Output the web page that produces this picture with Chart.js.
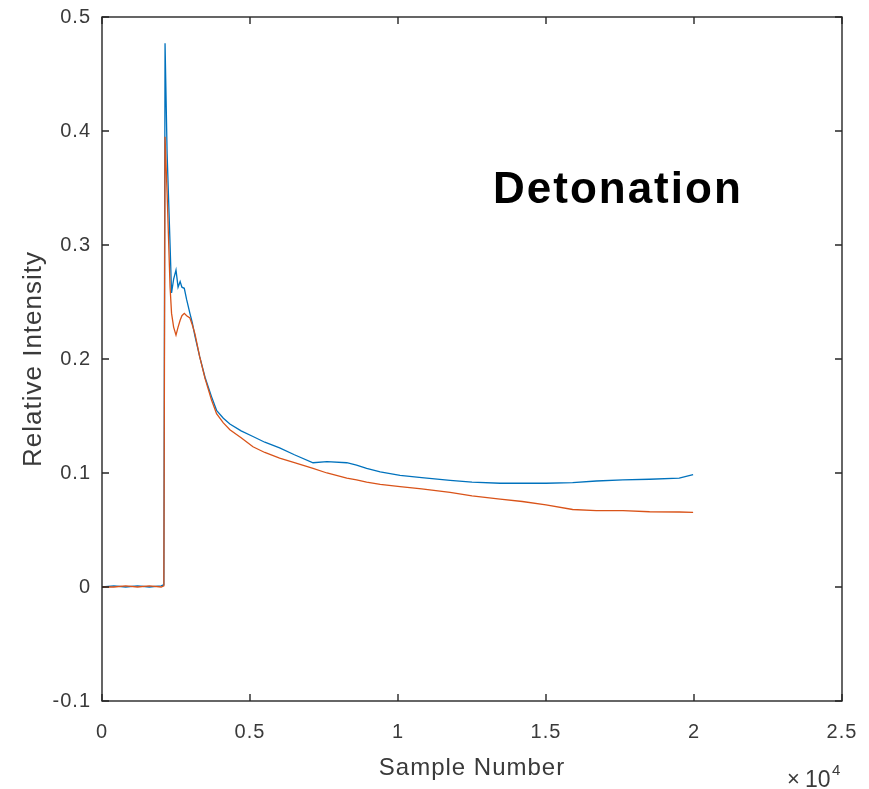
<!DOCTYPE html>
<html>
<head>
<meta charset="utf-8">
<script src="https://cdn.jsdelivr.net/npm/chart.js@4.4.0/dist/chart.umd.min.js"></script>
<style>
  body { margin: 0; background: #fff; }
  #wrap { width: 869px; height: 789px; }
</style>
</head>
<body>
<div id="wrap"><canvas id="myChart"></canvas></div>
<script>
// sample numbers (x) shared by both traces
const sampleX = [0, 400, 800, 1200, 1600, 2000, 2090, 2130, 2200, 2300, 2350, 2420, 2500, 2570, 2640, 2700,
  2780, 2860, 2970, 3050, 3140, 3300, 3480, 3700, 3870, 4100, 4320, 4700, 5100, 5500, 6000, 6500,
  7130, 7600, 8270, 8600, 8940, 9400, 10070, 10800, 11760, 12500, 13450, 14200, 15000, 15900,
  16700, 17600, 18500, 19500, 19970];

const blueY = [0, 0.001, 0, 0.001, 0, 0.001, 0.002, 0.477, 0.38, 0.30, 0.258, 0.27, 0.278, 0.263, 0.268, 0.263,
  0.262, 0.252, 0.24, 0.232, 0.22, 0.202, 0.184, 0.167, 0.155, 0.148, 0.143, 0.137, 0.132, 0.127, 0.122, 0.116,
  0.109, 0.110, 0.109, 0.107, 0.104, 0.101, 0.098, 0.096, 0.0935, 0.092, 0.091, 0.091, 0.091, 0.0915,
  0.093, 0.094, 0.0945, 0.0955, 0.0985];

const orangeY = [0, 0, 0.001, 0, 0.001, 0, 0.001, 0.395, 0.345, 0.263, 0.240, 0.228, 0.221, 0.228, 0.234, 0.238,
  0.240, 0.238, 0.236, 0.230, 0.222, 0.202, 0.183, 0.164, 0.152, 0.144, 0.138, 0.131, 0.123, 0.118, 0.113, 0.109,
  0.104, 0.100, 0.0955, 0.094, 0.092, 0.090, 0.088, 0.086, 0.083, 0.080, 0.077, 0.075, 0.072, 0.068,
  0.067, 0.067, 0.066, 0.0658, 0.0655];

const xTicks = ["0", "0.5", "1", "1.5", "2", "2.5"];

const axisColor = "#262626";
const textColor = "#3a3a3a";
const fontFam = "'Liberation Sans', Arial, sans-serif";

// matlab style box with inward ticks, plus the text inside the axes
const matlabBox = {
  id: "matlabBox",
  beforeDraw(chart) {
    // matlab text is a bit wider than arial
    chart.ctx.letterSpacing = "1px";
  },
  afterDatasetsDraw(chart) {
    const c = chart.ctx;
    const a = chart.chartArea;
    const xs = chart.scales.x;
    const ys = chart.scales.y;
    const len = 7;
    c.save();
    c.strokeStyle = axisColor;
    c.lineWidth = 1.4;
    c.strokeRect(a.left, a.top, a.right - a.left, a.bottom - a.top);
    c.beginPath();
    xs.ticks.forEach(t => {
      const px = xs.getPixelForValue(t.value);
      c.moveTo(px, a.bottom); c.lineTo(px, a.bottom - len);
      c.moveTo(px, a.top); c.lineTo(px, a.top + len);
    });
    ys.ticks.forEach(t => {
      const py = ys.getPixelForValue(t.value);
      c.moveTo(a.left, py); c.lineTo(a.left + len, py);
      c.moveTo(a.right, py); c.lineTo(a.right - len, py);
    });
    c.stroke();

    // "Detonation" label
    c.fillStyle = "#000";
    c.letterSpacing = "2px";
    c.font = "bold 44px " + fontFam;
    c.textBaseline = "alphabetic";
    c.textAlign = "left";
    c.fillText("Detonation", a.left + 391, a.top + 186);

    // x10^4 exponent
    c.letterSpacing = "0px";
    c.fillStyle = textColor;
    c.font = "22px " + fontFam;
    c.fillText("\u00d7", a.right - 55, a.bottom + 85);
    c.font = "23px " + fontFam;
    c.fillText("10", a.right - 37, a.bottom + 86);
    c.font = "15px " + fontFam;
    c.fillText("4", a.right - 10, a.bottom + 74);
    c.restore();
  }
};

// invisible tick marks push the labels away from the box without adding edge padding
const hiddenGrid = (len) => ({
  display: true,
  drawOnChartArea: false,
  drawTicks: true,
  tickLength: len,
  color: "rgba(0,0,0,0)",
});

const ctx = document.getElementById("myChart");
new Chart(ctx, {
  type: "line",
  data: {
    labels: sampleX,
    datasets: [
      {
        label: "blue",
        data: sampleX.map((x, i) => ({ x: x, y: blueY[i] })),
        borderColor: "#0072BD",
        borderWidth: 1.3,
        pointRadius: 0,
        order: 2,
      },
      {
        label: "orange",
        data: sampleX.map((x, i) => ({ x: x, y: orangeY[i] })),
        borderColor: "#D95319",
        borderWidth: 1.3,
        pointRadius: 0,
        order: 1,
      },
    ],
  },
  options: {
    responsive: true,
    maintainAspectRatio: false,
    animation: false,
    layout: { padding: { top: 17, right: 27, left: 0, bottom: 0 } },
    plugins: {
      legend: { display: false },
      tooltip: { enabled: false },
    },
    scales: {
      x: {
        type: "linear",
        min: 0,
        max: 25000,
        grid: hiddenGrid(19),
        border: { display: false },
        ticks: {
          stepSize: 5000,
          padding: 0,
          color: textColor,
          font: { family: fontFam, size: 20 },
          maxRotation: 0,
          callback: (v, i) => xTicks[i],
        },
        title: {
          display: true,
          text: "Sample Number",
          color: textColor,
          font: { family: fontFam, size: 24 },
          padding: { bottom: 6 },
        },
        afterFit: (scale) => { scale.height = 88; },
      },
      y: {
        min: -0.1,
        max: 0.5,
        grid: hiddenGrid(11),
        border: { display: false },
        ticks: {
          stepSize: 0.1,
          padding: 0,
          color: textColor,
          font: { family: fontFam, size: 20 },
          callback: (v) => String(Math.round(v * 10) / 10),
        },
        title: {
          display: true,
          text: "Relative Intensity",
          color: textColor,
          font: { family: fontFam, size: 26 },
          padding: { top: 18 },
        },
        afterFit: (scale) => { scale.width = 102; },
      },
    },
  },
  plugins: [matlabBox],
});
</script>
</body>
</html>
